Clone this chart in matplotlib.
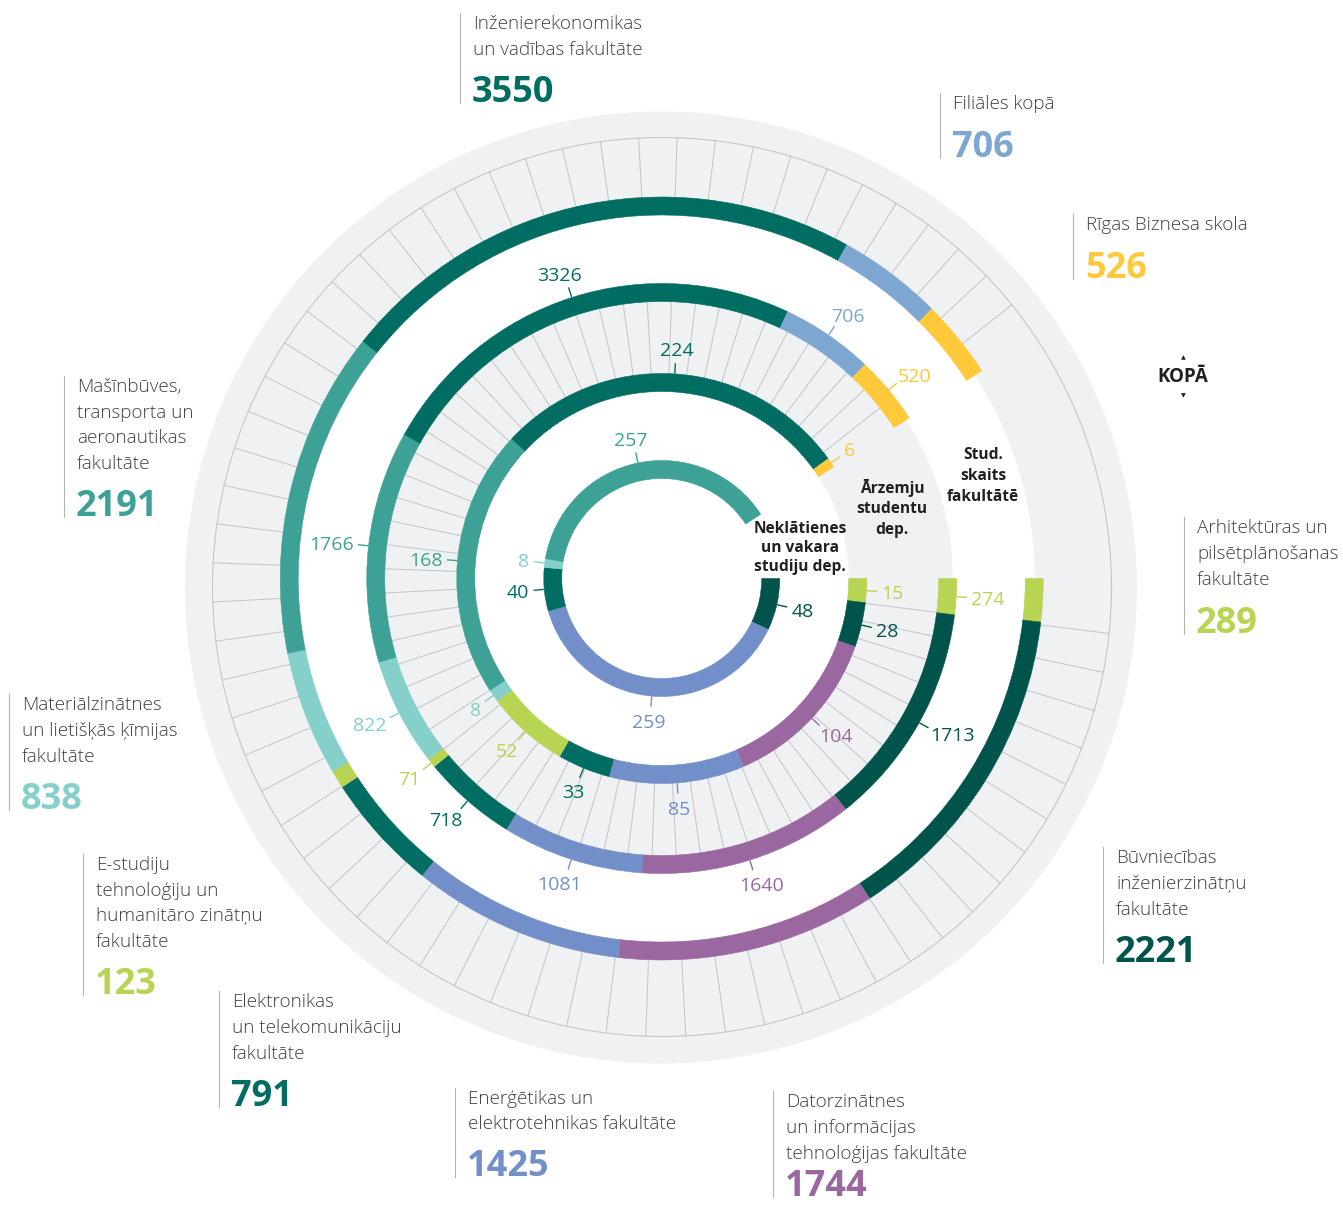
import numpy as np
import matplotlib.pyplot as plt
from matplotlib.patches import Wedge, Circle


# -----------------------------
# Data (clockwise from 3 o'clock)
# -----------------------------
faculties = [
    "Arhitektūras un\npilsētplānošanas\nfakultāte",
    "Būvniecības\ninženierzinātņu\nfakultāte",
    "Datorzinātnes\nun informācijas\ntehnoloģijas fakultāte",
    "Enerģētikas un\nelektrotehnikas fakultāte",
    "Elektronikas\nun telekomunikāciju\nfakultāte",
    "E-studiju\ntehnoloģiju un\nhumanitāro zinātņu\nfakultāte",
    "Materiālzinātnes\nun lietišķās ķīmijas\nfakultāte",
    "Mašīnbūves,\ntransporta un\naeronautikas\nfakultāte",
    "Inženierekonomikas\nun vadības fakultāte",
    "Filiāles kopā",
    "Rīgas Biznesa skola",
]
colors = [
    "#b7d453", "#00544c", "#9a67a0", "#738fc9", "#006d62", "#b7d453",
    "#85d0ca", "#3ea195", "#006d62", "#7da6d0", "#ffc93c",
]

kopa = [289, 2221, 1744, 1425, 791, 123, 838, 2191, 3550, 706, 526]
stud_skaits = [274, 1713, 1640, 1081, 718, 71, 822, 1766, 3326, 706, 520]
arzemju = [15, 28, 104, 85, 33, 52, 8, 168, 224, 0, 6]
neklatienes = [0, 48, 0, 259, 40, 0, 8, 257, 0, 0, 0]

ring_titles = ["KOPĀ", "Stud.\nskaits\nfakultātē", "Ārzemju\nstudentu\ndep.",
               "Neklātienes\nun vakara\nstudiju dep."]

# -----------------------------
# Layout (pixel coordinates)
# -----------------------------
W, H = 1343, 1207
CX, CY = 661.75, 578.5
SPAN = 327.0
RW = 18.0
ring_r = [372.5, 286.0, 196.0, 109.0]
GREY = "#f0f1f3"
GRID = "#c6c6c8"
TXT = "#414042"
FONT = "Open Sans"

# annotation blocks: x, first line centre y, line step, number centre y
ann_pos = [
    (1197, 527, 26, 620),
    (1116, 857, 26, 949),
    (786, 1101, 26, 1183),
    (468, 1098, 25, 1163),
    (232, 1001, 26, 1093),
    (96, 864, 25.7, 981),
    (22, 704, 26, 796),
    (77, 386, 25.7, 503),
    (473, 23, 26, 89),
    (953, 103, 26, 144),
    (1086, 224, 26, 265),
]

title_pos = [(1183, 377, 0), (983, 455, 21), (892, 488, 21), (800, 529, 19)]

# -----------------------------
# Figure
# -----------------------------
fig = plt.figure(figsize=(W / 100, H / 100), dpi=100)
ax = fig.add_axes([0, 0, 1, 1])
ax.set_xlim(0, W)
ax.set_ylim(H, 0)
ax.axis("off")

# background disc and bands
ax.add_patch(Circle((661, 587.5), 476, color=GREY, lw=0, zorder=0))
ax.add_patch(Circle((662, 587), 449.5, fill=False, ec=GRID, lw=0.8, zorder=1))
ax.add_patch(Wedge((CX, CY), 373, 0, 360, width=373 - 291, color="white", lw=0, zorder=1))
ax.add_patch(Circle((CX, CY), 187, color="white", lw=0, zorder=1))

# radial grid lines
d = np.array([662 - CX, 587 - CY])
for a in np.deg2rad(np.arange(7, 323, 5)):
    u = np.array([np.cos(a), np.sin(a)])
    ax.plot([CX + 205 * u[0], CX + 277 * u[0]], [CY + 205 * u[1], CY + 277 * u[1]],
            color=GRID, lw=0.75, zorder=2)
    b = u @ d
    t = b + np.sqrt(b * b - d @ d + 449.5 ** 2)
    ax.plot([CX + 382 * u[0], CX + t * u[0]], [CY + 382 * u[1], CY + t * u[1]],
            color=GRID, lw=0.75, zorder=2)


# -----------------------------
# Rings
# -----------------------------
def draw_ring(values, r, labels):
    vals = np.array(values, dtype=float)
    edges = np.concatenate([[0], np.cumsum(vals)]) / vals.sum() * SPAN
    for i, v in enumerate(vals):
        if v == 0:
            continue
        ax.add_patch(Wedge((CX, CY), r + RW / 2, edges[i], edges[i + 1], width=RW,
                           fc=colors[i], ec=colors[i], lw=0.4, zorder=3))
        if not labels:
            continue
        a = np.deg2rad((edges[i] + edges[i + 1]) / 2)
        c, s = np.cos(a), np.sin(a)
        r_out = r + RW / 2
        ax.plot([CX + (r_out + 1) * c, CX + (r_out + 10) * c],
                [CY + (r_out + 1) * s, CY + (r_out + 10) * s],
                color=colors[i], lw=1.0, zorder=3)
        ra = r_out + 15 + 3 * abs(s)
        txt = str(int(v))
        w = len(txt) * 11
        tx = CX + ra * c + w / 2 * c
        ty = CY + ra * s + 7 * s
        ax.text(tx, ty + 7, txt, color=colors[i], fontsize=14, family=FONT,
                ha="center", va="baseline", zorder=4)


draw_ring(kopa, ring_r[0], False)
draw_ring(stud_skaits, ring_r[1], True)
draw_ring(arzemju, ring_r[2], True)
draw_ring(neklatienes, ring_r[3], True)

# ring titles
for n, (title, (x, y, step)) in enumerate(zip(ring_titles, title_pos)):
    size = 13.5 if n == 0 else 11.2
    for k, line in enumerate(title.split("\n")):
        ax.text(x, y + k * step, line, fontsize=size, fontweight="bold", family=FONT,
                color="#231f20", ha="center", va="center", zorder=5)
ax.text(1183, 358, "▲", fontsize=4.5, ha="center", va="center", color="#231f20")
ax.text(1183, 396, "▼", fontsize=4.5, ha="center", va="center", color="#231f20")

# -----------------------------
# Outer annotations
# -----------------------------
for name, total, col, (x, y0, step, yn) in zip(faculties, kopa, colors, ann_pos):
    lines = name.split("\n")
    for k, line in enumerate(lines):
        ax.text(x, y0 + k * step + 6, line, fontsize=13.6, family=FONT, fontweight="light",
                color=TXT, ha="left", va="baseline", zorder=5)
    ax.text(x - 1, yn + 13, str(total), fontsize=26, family=FONT, fontweight="bold",
            color=col, ha="left", va="baseline", zorder=5)
    ax.plot([x - 13, x - 13], [y0 - 10, min(yn + 14, H)], color="#b4b4b4", lw=0.8, zorder=5)

fig.savefig("out.png", dpi=100)
